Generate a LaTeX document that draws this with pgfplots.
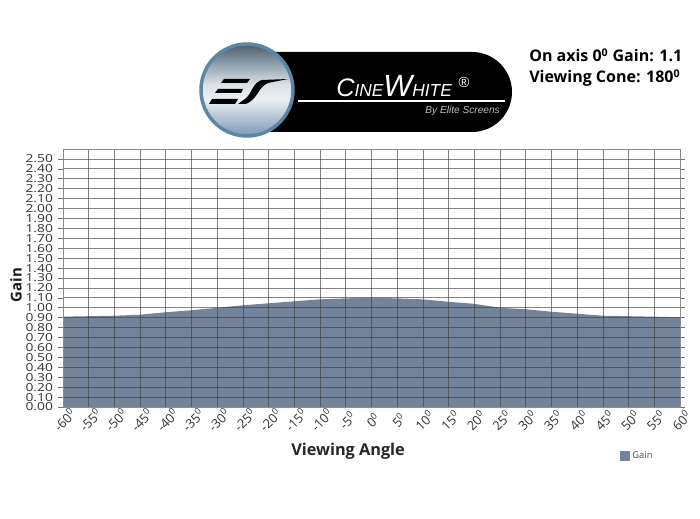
\documentclass[border=0pt]{standalone}
\usepackage{fontspec}
\setmainfont{Open Sans}
\usepackage{pgfplots}
\pgfplotsset{compat=1.18}
\definecolor{areac}{HTML}{73839A}
\definecolor{ticktxt}{HTML}{333333}
\definecolor{ring}{HTML}{5A87A5}
\pgfdeclareverticalshading{ball}{100bp}{
  rgb(0bp)=(0.49,0.61,0.72);
  rgb(25bp)=(0.49,0.61,0.72);
  rgb(33bp)=(0.67,0.74,0.81);
  rgb(45bp)=(0.92,0.94,0.95);
  rgb(53bp)=(0.86,0.88,0.90);
  rgb(65bp)=(0.55,0.62,0.67);
  rgb(75bp)=(0.31,0.37,0.42);
  rgb(100bp)=(0.31,0.37,0.42)}
\begin{document}
\begin{tikzpicture}
\path[use as bounding box] (0,0) rectangle (525pt,388.5pt);
\begin{axis}[
  at={(47.25pt,83.25pt)}, anchor=south west,
  scale only axis, width=462.75pt, height=193.5pt,
  xmin=-60, xmax=60, ymin=0, ymax=2.6,
  axis on top,
  axis line style={draw=black!45, line width=0.6pt},
  grid=major,
  grid style={draw=black!75, line width=0.55pt, opacity=0.65},
  xtick={-60,-55,...,60},
  xticklabels={-60\textsuperscript{0},-55\textsuperscript{0},-50\textsuperscript{0},-45\textsuperscript{0},-40\textsuperscript{0},-35\textsuperscript{0},-30\textsuperscript{0},-25\textsuperscript{0},-20\textsuperscript{0},-15\textsuperscript{0},-10\textsuperscript{0},-5\textsuperscript{0},0\textsuperscript{0},5\textsuperscript{0},10\textsuperscript{0},15\textsuperscript{0},20\textsuperscript{0},25\textsuperscript{0},30\textsuperscript{0},35\textsuperscript{0},40\textsuperscript{0},45\textsuperscript{0},50\textsuperscript{0},55\textsuperscript{0},60\textsuperscript{0}},
  ytick={0,0.1,0.2,0.3,0.4,0.5,0.6,0.7,0.8,0.9,1.0,1.1,1.2,1.3,1.4,1.5,1.6,1.7,1.8,1.9,2.0,2.1,2.2,2.3,2.4,2.5},
  /pgf/number format/fixed,
  /pgf/number format/fixed zerofill,
  /pgf/number format/precision=2,
  /pgf/number format/assume math mode=true,
  y tick label style={font=\fontsize{8.3}{8.3}\selectfont, text=ticktxt, xshift=-3.6pt, xscale=1.25, inner sep=0pt, anchor=east},
  x tick label style={font=\fontsize{9.6}{10}\selectfont, text=ticktxt, yshift=-9.75pt, xshift=1.1pt, rotate=45, anchor=center, inner sep=0pt},
  tick style={draw=black!55, line width=0.5pt},
  ytick align=outside, xtick align=inside,
  x tick style={draw=none},
  major tick length=3.7pt,
  xlabel={\bfseries Viewing Angle},
  ylabel={\bfseries Gain},
  xlabel style={at={(axis description cs:0.462,-0.17)}, anchor=center, font=\fontsize{12.2}{13}\selectfont, text=black!85},
  ylabel style={at={(axis description cs:-0.076,0.473)}, anchor=center, font=\fontsize{11.2}{12}\selectfont, text=black!90},
  legend style={draw=none, fill=none, at={(axis description cs:0.903,-0.19)}, anchor=west, inner sep=0pt, font=\fontsize{7}{8}\selectfont, text=black!70},
  legend image code/.code={\fill[areac] (0pt,-3.4pt) rectangle (7pt,3.4pt);},
]
\addplot[fill=areac, draw=none] coordinates {
(-60,0) (-60,0.91) (-55,0.915) (-50,0.92) (-45,0.93) (-40,0.955) (-35,0.975) (-30,1.0) (-25,1.025) (-20,1.045) (-15,1.065) (-10,1.085) (-5,1.095) (0,1.10) (5,1.095) (10,1.085) (15,1.06) (20,1.04) (25,1.00) (30,0.985) (35,0.96) (40,0.94) (45,0.92) (50,0.915) (55,0.91) (60,0.905) (60,0)
};
\addlegendentry{Gain}
\end{axis}
\begin{scope}[x=0.75pt,y=-0.75pt,yshift=388.5pt]
  % pill
  \fill[black] (250,52) -- (472,52) arc[start angle=-90,end angle=90,radius=40] -- (250,132) -- cycle;
  % ball
  \shade[shading=ball] (247,90) circle (45);
  \draw[color=ring, line width=2.6pt] (247,90) circle (46);
  % ES mark
  \fill[black] (224,79) -- (250,79) -- (247,83) -- (221,83) -- cycle;
  \fill[black] (218,89) -- (243,89) -- (241,93) -- (215,93) -- cycle;
  \fill[black] (212,99) -- (238,99) -- (235,104) -- (209,104) -- cycle;
  \fill[black] (288,79) -- (262,80) .. controls (252,83) and (252,94) .. (245,99) -- (238,104) -- (246,104) .. controls (258,99) and (258,87) .. (268,83) -- cycle;
  % text
  \node[anchor=base west, inner sep=0pt, text=white] at (336,97) {\fontspec{Liberation Sans}\itshape\fontsize{19}{19}\selectfont C\fontsize{13}{13}\selectfont INE\fontsize{23}{23}\selectfont W\fontsize{13}{13}\selectfont HITE};
  \node[anchor=base west, inner sep=0pt, text=white] at (458,88) {\fontspec{Liberation Sans}\itshape\fontsize{11}{11}\selectfont\textregistered};
  \fill[white] (298,100.4) rectangle (505,102);
  \node[anchor=base east, inner sep=0pt, text=white!75!black] at (500,114) {\fontspec{Liberation Sans}\itshape\fontsize{7.6}{8}\selectfont By Elite Screens};
  % header
  \node[anchor=base west, inner sep=0pt] at (529,62) {\fontsize{12}{13}\selectfont\bfseries On axis 0\textsuperscript{0} Gain: 1.1};
  \node[anchor=base west, inner sep=0pt] at (529,83) {\fontsize{12}{13}\selectfont\bfseries Viewing Cone: 180\textsuperscript{0}};
\end{scope}
\end{tikzpicture}
\end{document}
